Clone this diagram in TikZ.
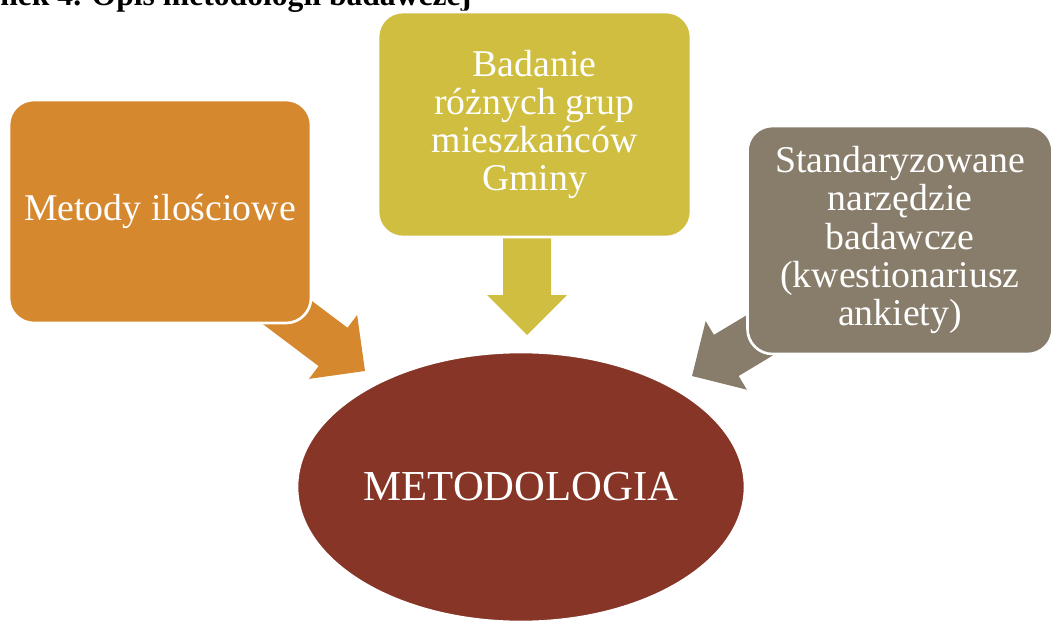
\documentclass[tikz,border=0pt]{standalone}
\usepackage{fontspec}
\setmainfont{Liberation Serif}
\usetikzlibrary{positioning,shapes.geometric}
\definecolor{boxorange}{RGB}{214,136,46}
\definecolor{boxyellow}{RGB}{208,190,65}
\definecolor{boxgray}{RGB}{135,125,106}
\definecolor{boxbrown}{RGB}{134,53,38}
\begin{document}
\begin{tikzpicture}[
	box/.style={rounded corners=0.5cm,draw=white,line width=1.5pt,minimum width=6cm,minimum height=4.5cm,text=white,align=center,font=\fontsize{21.5}{21.8}\selectfont},
	blockarrow/.pic={\fill[pic actions] (0,0) -- (-0.8,0.8) -- (-0.8,0.48) -- (-2.2,0.48) -- (-2.2,-0.48) -- (-0.8,-0.48) -- (-0.8,-0.8) -- cycle;}
	]
	\useasboundingbox (0,0) rectangle (21.02,-12.44);
	\clip (0,0) rectangle (21.02,-12.44);
	
	\node[anchor=base west,inner sep=0,font=\bfseries\fontsize{18}{21}\selectfont] (title) at (0,-0.12) {nek 4. Opis metodologii badawczej};
	
	\coordinate (tip0) at (7.30,-7.42);
	\coordinate (tip1) at (10.54,-6.70);
	\coordinate (tip2) at (13.84,-7.52);
	
	\pic[rotate=-37,fill=boxorange] at (tip0) {blockarrow};
	\pic[rotate=-90,fill=boxyellow] at (tip1) {blockarrow};
	\pic[rotate=211,fill=boxgray] at (tip2) {blockarrow};
	
	\node[box,fill=boxorange,minimum width=6.04cm,minimum height=4.46cm] (ilosc) at (3.2,-4.23) {Metody ilościowe};
	\node[box,fill=boxyellow,minimum width=6.26cm] (grupy) at (10.69,-2.49) {Badanie\\różnych grup\\mieszkańców\\Gminy};
	\node[box,fill=boxgray,minimum width=6.1cm,minimum height=4.56cm] (narz) at (18.0,-4.8) {Standaryzowane\\narzędzie\\badawcze\\(kwestionariusz\\ankiety)};
	
	\node[ellipse,fill=boxbrown,draw=white,line width=1.5pt,inner xsep=0pt,minimum width=8.96cm,minimum height=5.4cm,text=white,font=\fontsize{24.3}{29}\selectfont] (metod) at (10.42,-9.74) {METODOLOGIA};
\end{tikzpicture}
\end{document}
